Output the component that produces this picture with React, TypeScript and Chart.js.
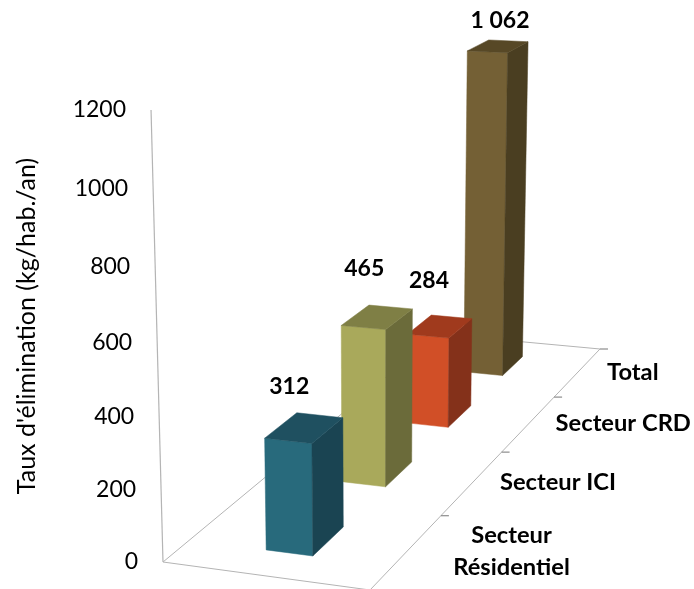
import React, { useEffect, useRef } from "react";
import { Chart, registerables, LinearScale } from "chart.js";

const categories: (string | string[])[] = [["Secteur", "Résidentiel"], "Secteur ICI", "Secteur CRD", "Total"];
const values = [312, 465, 284, 1062];
const yTickMax = 1200;
const yTickStep = 200;
const axisTitle = "Taux d'élimination (kg/hab./an)";

const frontColors = ["#286a7c", "#a9a95b", "#d14f27", "#746035"];
const sideColors = ["#1a4452", "#6b6b3a", "#84311a", "#4a3e21"];
const topColors = ["#1f5060", "#7f7f45", "#a03a1d", "#574826"];

// view: perspective camera of the 3D box (u = across, v = along categories, t = height decimal)
const H = [
  [194.54, 417.6, 163],
  [8.13, -119.25, 562],
  [-0.03368, 0.3256, 1],
];
const VANISH = [375, 8570, 1];
const LIFT = -0.05343;
function project(u: number, v: number, t: number): [number, number] {
  const k = LIFT * t;
  const X = H[0][0] * u + H[0][1] * v + H[0][2] + k * VANISH[0];
  const Y = H[1][0] * u + H[1][1] * v + H[1][2] + k * VANISH[1];
  const W = H[2][0] * u + H[2][1] * v + H[2][2] + k * VANISH[2];
  return [X / W, Y / W];
}

const BAR_U = 0.23;
const BAR_DEPTH = 0.4;
const TICK_GAP = 25;
const FONT = "Lato";
const VALUE_SIZE = 23;
const CATEGORY_SIZE = 23.7;
const dataLabelNudge = [[-15, -41], [-13, -49], [-11, -46], [2, -26]];
const catLabelDx = [104.6, 85.6, 94.5, 55];
const LINE = "#b4b4b4";
const TICK = "#8c8c8c";

class PerspectiveScale extends (LinearScale as any) {
  static id = "perspective";
  static defaults = (LinearScale as any).defaults;
  getPixelForValue(value: number) {
    const t = (value - this.min) / (this.max - this.min);
    return project(0, 0, t)[1];
  }
  _computeLabelArea() {
    return undefined;
  }
  _computeLabelItems(area: any) {
    const items = super._computeLabelItems(area);
    items.forEach((item: any, i: number) => {
      const t = (this.ticks[i].value - this.min) / (this.max - this.min);
      item.options.translation = [project(0, 0, t)[0] - TICK_GAP, item.options.translation[1]];
    });
    return items;
  }
}

Chart.register(...registerables, PerspectiveScale as any);

function poly(ctx: CanvasRenderingContext2D, pts: [number, number][], color: string) {
  ctx.beginPath();
  pts.forEach((p, i) => (i ? ctx.lineTo(p[0], p[1]) : ctx.moveTo(p[0], p[1])));
  ctx.closePath();
  ctx.fillStyle = color;
  ctx.strokeStyle = color;
  ctx.lineWidth = 0.5;
  ctx.fill();
  ctx.stroke();
}

function segment(ctx: CanvasRenderingContext2D, a: [number, number], b: [number, number], color: string, w = 1) {
  ctx.beginPath();
  ctx.moveTo(a[0], a[1]);
  ctx.lineTo(b[0], b[1]);
  ctx.strokeStyle = color;
  ctx.lineWidth = w;
  ctx.stroke();
}

const box3d = {
  id: "box3d",
  beforeDatasetDraw(chart: any) {
    const { ctx, scales } = chart;
    const x = scales.x;
    const y = scales.y;
    const n = categories.length;
    const centre = (i: number) => (x.getPixelForValue(i) - x.left) / x.width;
    const tOf = (val: number) => (val - y.min) / (y.max - y.min);
    ctx.save();

    // floor outline and wall edge
    segment(ctx, project(0, 0, 0), project(0, 0, 1), LINE, 1.2);
    segment(ctx, project(0, 0, 0), project(1, 0, 0), LINE);
    segment(ctx, project(0, 0, 0), project(0, 1, 0), LINE);
    segment(ctx, project(1, 0, 0), project(1, 1, 0), LINE);
    segment(ctx, project(0, 1, 0), project(1, 1, 0), LINE);
    for (let i = 1; i <= n; i++) {
      const p = project(1, i / n, 0);
      segment(ctx, p, [p[0] + 8, p[1]], TICK, 1.2);
    }

    // bars, from back to front
    const half = BAR_DEPTH / n / 2;
    for (let i = n - 1; i >= 0; i--) {
      const v = centre(i);
      const t = tOf(values[i]);
      const u0 = 0.5 - BAR_U / 2;
      const u1 = 0.5 + BAR_U / 2;
      const v0 = v - half;
      const v1 = v + half;
      poly(ctx, [project(u0, v0, 0), project(u1, v0, 0), project(u1, v0, t), project(u0, v0, t)], frontColors[i]);
      poly(ctx, [project(u1, v0, 0), project(u1, v1, 0), project(u1, v1, t), project(u1, v0, t)], sideColors[i]);
      poly(ctx, [project(u0, v0, t), project(u1, v0, t), project(u1, v1, t), project(u0, v1, t)], topColors[i]);
    }

    // value labels
    ctx.fillStyle = "#000";
    ctx.textAlign = "center";
    ctx.textBaseline = "middle";
    ctx.font = `bold ${VALUE_SIZE}px ${FONT}`;
    values.forEach((val, i) => {
      const p = project(0.5, centre(i), tOf(val));
      const text = String(val).replace(/\B(?=(\d{3})+$)/g, " ");
      ctx.fillText(text, p[0] + dataLabelNudge[i][0], p[1] + dataLabelNudge[i][1]);
    });

    // category labels along the floor's right edge
    ctx.font = `bold ${CATEGORY_SIZE}px ${FONT}`;
    categories.forEach((label, i) => {
      const p = project(1, centre(i), 0);
      const lines = Array.isArray(label) ? label : [label];
      lines.forEach((line, j) => {
        ctx.fillText(line, p[0] + catLabelDx[i], p[1] + (j - (lines.length - 1) / 2) * 32);
      });
    });
    ctx.restore();
    return false;
  },
};

export default function App() {
  const ref = useRef<HTMLCanvasElement>(null);
  useEffect(() => {
    document.body.style.margin = "0";
    const chart = new Chart(ref.current as HTMLCanvasElement, {
      type: "bar",
      data: {
        labels: categories as any,
        datasets: [{ label: axisTitle, data: values, backgroundColor: frontColors }],
      },
      options: {
        animation: false,
        responsive: false,
        layout: { padding: { top: 110, bottom: 47, left: 12, right: 0 } },
        plugins: { legend: { display: false }, tooltip: { enabled: false } },
        scales: {
          x: { display: false },
          y: {
            type: "perspective" as any,
            min: 0,
            max: yTickMax,
            grid: { display: false },
            border: { display: false },
            ticks: {
              stepSize: yTickStep,
              color: "#000",
              font: { family: FONT, size: 23 },
              autoSkip: false,
              callback: (v: number) => String(v),
            },
            title: { display: true, text: axisTitle, color: "#000", font: { family: FONT, size: 25 }, padding: 0 },
          },
        },
      } as any,
      plugins: [box3d as any],
    });
    return () => chart.destroy();
  }, []);
  return <canvas ref={ref} width={694} height={589} style={{ display: "block" }} />;
}
